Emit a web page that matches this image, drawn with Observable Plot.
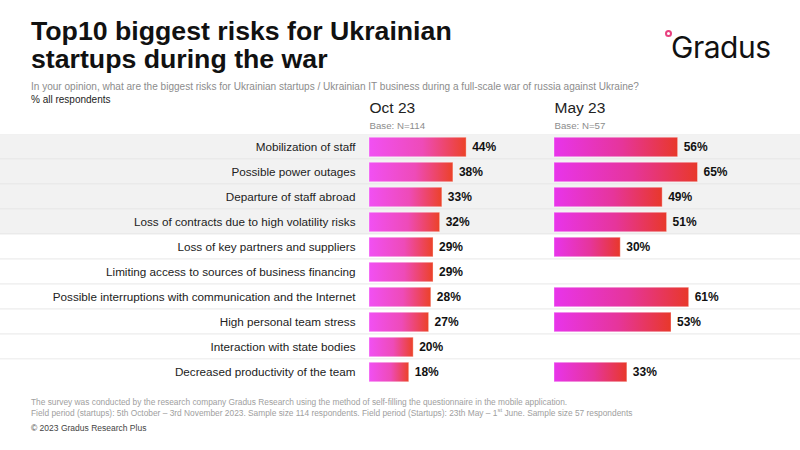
<!DOCTYPE html>
<html>
<head>
<meta charset="utf-8">
<script src="https://cdn.jsdelivr.net/npm/d3@7"></script>
<script src="https://cdn.jsdelivr.net/npm/@observablehq/plot@0.6"></script>
<style>
  html, body { margin: 0; padding: 0; background: #fff; }
  #wrap { position: relative; width: 800px; height: 450px; background: #fff; overflow: hidden;
          font-family: "Liberation Sans", Arial, sans-serif; }
  .abs { position: absolute; }
  #title { left: 31px; top: 17px; font-size: 26.7px; font-weight: bold; line-height: 28px; color: #111; }
  #sub { left: 31px; top: 81px; font-size: 10.05px; line-height: 12px; color: #8c8c8c; white-space: nowrap; }
  #pct { left: 31px; top: 94px; font-size: 10px; line-height: 12px; color: #222; }
  #foot { left: 31px; top: 397px; font-size: 8.35px; line-height: 10.5px; color: #a0a0a0; white-space: nowrap; }
  #copy { left: 31px; top: 423px; font-size: 8.5px; line-height: 10.5px; color: #444; }
  #logo { left: 671px; top: 29.5px; font-family: Inter, "Liberation Sans", sans-serif; font-size: 30px;
          line-height: 34px; color: #111; letter-spacing: -0.5px; }
  #ring { left: 664.5px; top: 29.5px; width: 3px; height: 3px; border: 2px solid #e8407f; border-radius: 50%; }
  #bg, #chart { left: 0; top: 95px; }
  sup { font-size: 6px; line-height: 0; }
</style>
</head>
<body>
<div id="wrap">
  <div id="bg" class="abs"></div>
  <div id="title" class="abs">Top10 biggest risks for Ukrainian<br>startups during the war</div>
  <div id="sub" class="abs">In your opinion, what are the biggest risks for Ukrainian startups / Ukrainian IT business during a full-scale war of russia against Ukraine?</div>
  <div id="pct" class="abs">% all respondents</div>
  <div id="ring" class="abs"></div>
  <div id="logo" class="abs">Gradus</div>
  <div id="chart" class="abs"></div>
  <div id="foot" class="abs">The survey was conducted by the research company Gradus Research using the method of self-filling the questionnaire in the mobile application.<br>Field period (startups): 5th October – 3rd November 2023. Sample size 114 respondents. Field period (Startups): 23th May – 1<sup>st</sup> June. Sample size 57 respondents</div>
  <div id="copy" class="abs">© 2023 Gradus Research Plus</div>
</div>
<svg width="0" height="0" style="position:absolute">
  <defs>
    <linearGradient id="gOct" x1="0" x2="1" y1="0" y2="0">
      <stop offset="0%" stop-color="#f150f3"/>
      <stop offset="55%" stop-color="#ee4bb8"/>
      <stop offset="100%" stop-color="#ec4228"/>
    </linearGradient>
    <linearGradient id="gMay" x1="0" x2="1" y1="0" y2="0">
      <stop offset="0%" stop-color="#e834eb"/>
      <stop offset="55%" stop-color="#e6359a"/>
      <stop offset="100%" stop-color="#e8382a"/>
    </linearGradient>
  </defs>
</svg>
<script>
// ---- data ----
const categories = [
  "Mobilization of staff",
  "Possible power outages",
  "Departure of staff abroad",
  "Loss of contracts due to high volatility risks",
  "Loss of key partners and suppliers",
  "Limiting access to sources of business financing",
  "Possible interruptions with communication and the Internet",
  "High personal team stress",
  "Interaction with state bodies",
  "Decreased productivity of the team"
];
const oct23 = [44, 38, 33, 32, 29, 29, 28, 27, 20, 18];
const may23 = [56, 65, 49, 51, 30, null, 61, 53, null, 33];
const periods = ["Oct 23", "May 23"];
const bases = ["Base: N=114", "Base: N=57"];
const shadedRows = 4;

// ---- table ----
const rows = [];
categories.forEach((c, i) => {
  if (oct23[i] != null) rows.push({risk: c, period: periods[0], value: oct23[i]});
  if (may23[i] != null) rows.push({risk: c, period: periods[1], value: may23[i]});
});
const headers = periods.map((p, i) => ({period: p, base: bases[i]}));

const H = 295, MT = 39.5, MB = 5.5;

// ---- background bands ----
const bg = Plot.plot({
  width: 800, height: H,
  marginTop: MT, marginBottom: MB, marginLeft: 0, marginRight: 0,
  style: {background: "transparent"},
  x: {axis: null},
  y: {domain: categories, padding: 0, axis: null, round: false},
  marks: [
    Plot.cell(categories.slice(0, -1), {y: d => d, fill: "#e3e3e3"}),
    Plot.cell(categories.slice(0, shadedRows), {y: d => d, fill: "#f2f2f2", insetBottom: 1}),
    Plot.cell(categories.slice(shadedRows), {y: d => d, fill: "#ffffff", insetBottom: 1})
  ]
});
document.getElementById("bg").appendChild(bg);

// ---- main chart ----
const chart = Plot.plot({
  width: 800, height: H,
  marginTop: MT, marginBottom: MB, marginLeft: 368, marginRight: 61,
  style: {background: "transparent", fontFamily: "'Liberation Sans', Arial, sans-serif", fontSize: "11.7px", color: "#222"},
  fx: {domain: periods, padding: 0, axis: null},
  x: {domain: [0, 83.8], axis: null},
  y: {domain: categories, padding: 0, round: false, label: null, tickSize: 0, tickPadding: 14},
  marks: [
    Plot.axisY({tickSize: 0, tickPadding: 14, fontSize: 11.7, label: null}),
    Plot.barX(rows.filter(d => d.period === periods[0]), {
      x: "value", y: "risk", fx: "period", fill: "url(#gOct)",
      insetTop: 2.75, insetBottom: 2.75, stroke: "#fff", strokeOpacity: 0.35, strokeWidth: 1
    }),
    Plot.barX(rows.filter(d => d.period === periods[1]), {
      x: "value", y: "risk", fx: "period", fill: "url(#gMay)",
      insetTop: 2.75, insetBottom: 2.75, stroke: "#fff", strokeOpacity: 0.35, strokeWidth: 1
    }),
    Plot.text(rows, {
      x: "value", y: "risk", fx: "period", text: d => d.value + "%",
      textAnchor: "start", dx: 5.5, fontWeight: "bold", fontSize: 12, fill: "#111"
    }),
    Plot.text(headers, {
      fx: "period", text: "period", frameAnchor: "top-left", textAnchor: "start",
      lineAnchor: "bottom", dy: -22, fontSize: 15.5, fill: "#222"
    }),
    Plot.text(headers, {
      fx: "period", text: "base", frameAnchor: "top-left", textAnchor: "start",
      lineAnchor: "bottom", dy: -6.5, fontSize: 9.7, fill: "#8c8c8c"
    })
  ]
});
document.getElementById("chart").appendChild(chart);
</script>
</body>
</html>
